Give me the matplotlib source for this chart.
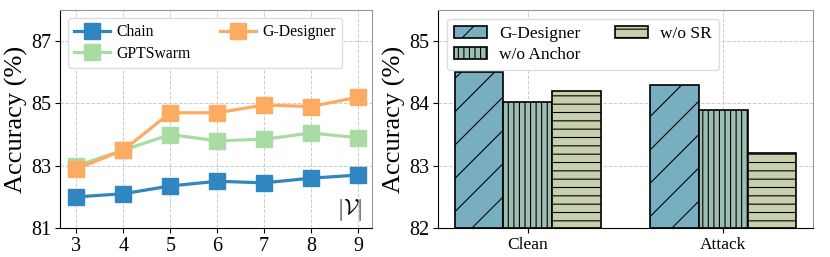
import matplotlib.pyplot as plt
import numpy as np

plt.rcParams['font.family'] = ['Liberation Serif', 'DejaVu Serif']
plt.rcParams['mathtext.fontset'] = 'cm'
plt.rcParams['hatch.linewidth'] = 0.8

# left panel data
sizes = [3, 4, 5, 6, 7, 8, 9]
chain = [82.0, 82.1, 82.35, 82.5, 82.45, 82.6, 82.7]
gptswarm = [83.0, 83.5, 84.0, 83.8, 83.85, 84.05, 83.9]
gdesigner = [82.9, 83.5, 84.7, 84.7, 84.95, 84.9, 85.2]

# right panel data
settings = ['Clean', 'Attack']
variants = ['G-Designer', 'w/o Anchor', 'w/o SR']
variant_acc = [[84.5, 84.3], [84.02, 83.9], [84.2, 83.2]]
variant_colors = ['#77aec0', '#9dbfb1', '#c8cfad']
variant_hatch = ['/', '|||', '--']

fig = plt.figure(figsize=(8.3, 2.57), dpi=100)
ax1 = fig.add_axes([60 / 830, 29 / 257, 312 / 830, 218 / 257])
ax2 = fig.add_axes([438 / 830, 29 / 257, 375 / 830, 218 / 257])

for ax in (ax1, ax2):
    ax.grid(True, linestyle='--', color='#cccccc', linewidth=0.7)
    ax.set_axisbelow(True)
    for s in ('top', 'right'):
        ax.spines[s].set_color('#999999')
    ax.tick_params(labelsize=14.5, pad=3)

ax1.plot(sizes, chain, color='#2f86c0', marker='s', markersize=11, lw=2.3, label='Chain')
ax1.plot(sizes, gptswarm, color='#a8dca2', marker='s', markersize=11, lw=2.3, label='GPTSwarm')
ax1.plot(sizes, gdesigner, color='#fdab60', marker='s', markersize=11, lw=2.3, label='G-Designer')
ax1.set_xlim(2.65, 9.3)
ax1.set_ylim(81, 88)
ax1.set_yticks([81, 83, 85, 87])
ax1.set_xticks(sizes)
ax1.set_ylabel('Accuracy (%)', fontsize=19, labelpad=2)
ax1.text(0.97, 0.025, r'$|\mathcal{V}|$', transform=ax1.transAxes, fontsize=16,
         ha='right', va='bottom')
ax1.legend(loc='upper left', ncol=2, fontsize=11.3, frameon=True, framealpha=1,
           edgecolor='#dddddd', columnspacing=1.85, handlelength=2.3,
           handletextpad=0.4, borderpad=0.4, labelspacing=0.35,
           bbox_to_anchor=(0.0, 1.0))

x = np.arange(len(settings))
w = 0.25
for i, name in enumerate(variants):
    ax2.bar(x + (i - 1) * w, [v - 82 for v in variant_acc[i]], w, bottom=82,
            color=variant_colors[i], edgecolor='black', linewidth=1.2,
            hatch=variant_hatch[i], label=name)
ax2.set_xlim(-0.46, 1.46)
ax2.set_ylim(82, 85.5)
ax2.set_yticks([82, 83, 84, 85])
ax2.set_xticks(x)
ax2.set_xticklabels(settings, fontsize=12.5)
ax2.set_ylabel('Accuracy (%)', fontsize=19, labelpad=2)
ax2.legend(loc='upper left', ncol=2, fontsize=12.5, frameon=True, framealpha=1,
           edgecolor='#dddddd', columnspacing=2.0, handlelength=1.9,
           handletextpad=0.7, borderpad=0.4, labelspacing=0.3,
           bbox_to_anchor=(0.0, 1.0))

fig.savefig('out.png', dpi=100)
